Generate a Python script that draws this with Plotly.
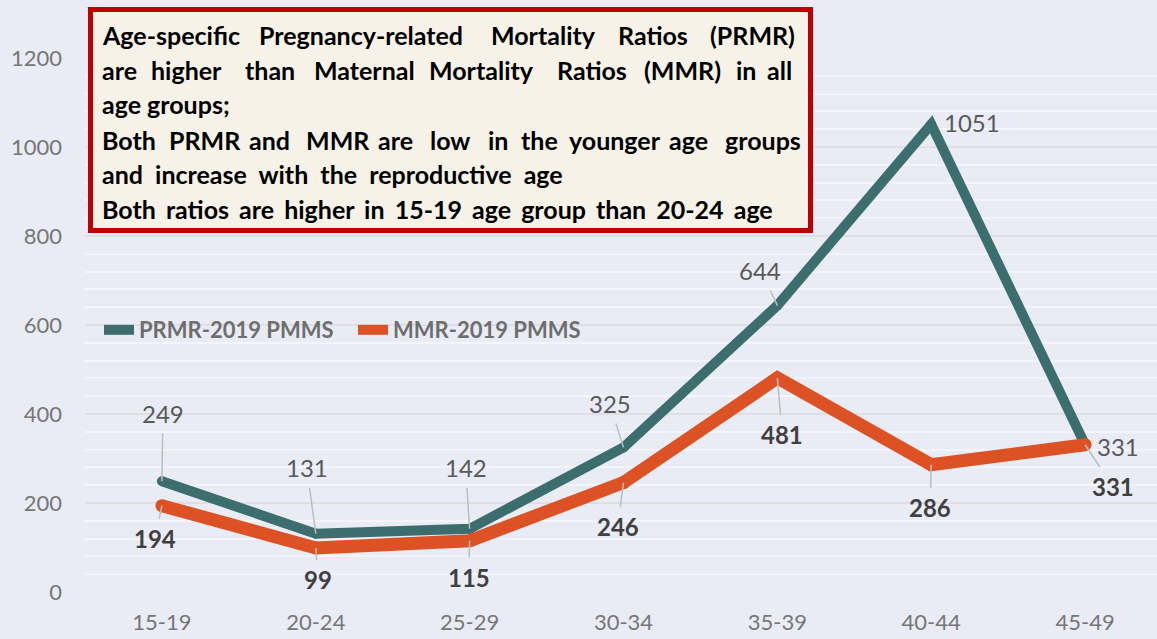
import plotly.graph_objects as go

# ---------------- data ----------------
categories = ["15-19", "20-24", "25-29", "30-34", "35-39", "40-44", "45-49"]
prmr_values = [249, 131, 142, 325, 644, 1051, 331]
mmr_values = [194, 99, 115, 246, 481, 286, 331]
y_tick_values = [0, 200, 400, 600, 800, 1000, 1200]
series_names = ["PRMR-2019 PMMS", "MMR-2019 PMMS"]

box_lines = [
    ["Age-specific", "Pregnancy-related", "Mortality", "Ratios", "(PRMR)"],
    ["are", "higher", "than", "Maternal", "Mortality", "Ratios", "(MMR)", "in", "all"],
    ["age groups;"],
    ["Both", "PRMR", "and", "MMR", "are", "low", "in", "the", "younger", "age", "groups"],
    ["and increase with the reproductive age"],
    ["Both ratios are higher in 15-19 age group than 20-24 age"],
]

# ---------------- layout geometry (pixels) ----------------
W, H = 1157, 639
L, R, T, B = 85, 0, 58, 47
PW = W - L - R
PH = H - T - B


def px(x):
    return (x - L) / PW


def py(y):
    return (H - B - y) / PH


# word start positions (px) for the justified lines
box_word_x = [
    [101, 258, 490, 617, 709],
    [101, 150, 244, 313, 428, 556, 643, 735, 766],
    [101],
    [101, 168, 248, 305, 377, 429, 487, 520, 568, 668, 724],
    [101],
    [101],
]
box_word_spacing = [0, 0, 0, 0, 6, 4]
box_line_y = [35, 70, 104, 140, 174, 209]

# data label offsets (text centre relative to point, px) and leader flags
prmr_off = [(1, -68), (-9, -66), (-4, -61), (-14, -44), (-17, -35), (41, -2), (33, 2)]
prmr_leader = [True, True, True, True, True, False, False]
mmr_off = [(-7, 33), (2, 32), (-1, 37), (-6, 44), (5, 57), (-1, 43), (28, 42)]
mmr_leader = [True, True, True, True, True, True, True]

TEAL = "#3C6E70"
ORANGE = "#DC5225"
BG = "#EAECF5"
FONT = "Lato"

fig = go.Figure()

# teal line
fig.add_trace(go.Scatter(x=categories, y=prmr_values, mode="lines", name=series_names[0],
                         line=dict(color=TEAL, width=10), hoverinfo="skip"))
fig.add_trace(go.Scatter(x=categories, y=prmr_values, mode="markers", showlegend=False,
                         marker=dict(color=TEAL, size=10, line=dict(width=0)), hoverinfo="skip"))
# orange line
fig.add_trace(go.Scatter(x=categories, y=mmr_values, mode="lines", name=series_names[1],
                         line=dict(color=ORANGE, width=13), hoverinfo="skip"))
fig.add_trace(go.Scatter(x=categories, y=mmr_values, mode="markers", showlegend=False,
                         marker=dict(color=ORANGE, size=13, line=dict(width=0)), hoverinfo="skip"))

annotations = []
for i, v in enumerate(prmr_values):
    dx, dy = prmr_off[i]
    if prmr_leader[i]:
        annotations.append(dict(x=categories[i], y=v, xref="x", yref="y", text=str(v),
                                showarrow=True, ax=dx, ay=dy, arrowhead=0, arrowwidth=1.5,
                                arrowcolor="#BDBDBD", borderpad=5,
                                font=dict(family=FONT, size=24, color="#595959")))
    else:
        annotations.append(dict(x=categories[i], y=v, xref="x", yref="y", text=str(v),
                                showarrow=False, xshift=dx, yshift=-dy,
                                font=dict(family=FONT, size=24, color="#595959")))
for i, v in enumerate(mmr_values):
    dx, dy = mmr_off[i]
    annotations.append(dict(x=categories[i], y=v, xref="x", yref="y", text="<b>%d</b>" % v,
                            showarrow=mmr_leader[i], ax=dx, ay=dy, arrowhead=0, arrowwidth=1.5,
                            arrowcolor="#BDBDBD", borderpad=5,
                            font=dict(family=FONT, size=24, color="#404040")))

# text box contents
for words, xs, ws, yc in zip(box_lines, box_word_x, box_word_spacing, box_line_y):
    for w, x0 in zip(words, xs):
        txt = "<b>%s</b>" % w
        if ws:
            txt = '<span style="word-spacing:%dpx">%s</span>' % (ws, txt)
        annotations.append(dict(x=px(x0), y=py(yc), xref="paper", yref="paper",
                                xanchor="left", yanchor="middle", showarrow=False,
                                text=txt, borderpad=0,
                                font=dict(family=FONT, size=25, color="#000000")))

shapes = [dict(type="rect", xref="paper", yref="paper",
               x0=px(90.5), x1=px(810.5), y0=py(230.5), y1=py(9.5),
               line=dict(color="#C00000", width=5), fillcolor="#F6F2E7", layer="above")]

fig.update_layout(
    width=W, height=H,
    margin=dict(l=L, r=R, t=T, b=B, pad=0),
    paper_bgcolor=BG, plot_bgcolor=BG,
    font=dict(family=FONT, color="#767676"),
    showlegend=True,
    legend=dict(orientation="h", x=px(99), y=py(330), xanchor="left", yanchor="middle",
                bgcolor="rgba(0,0,0,0)", font=dict(family=FONT, size=22, color="#6E6E6E", weight="bold"),
                itemwidth=30, entrywidth=209, entrywidthmode="pixels"),
    xaxis=dict(type="category", range=[-0.5, 6.4675], showgrid=False, zeroline=False,
               showline=False, ticks="", tickfont=dict(family=FONT, size=22, color="#767676"),
               ticklabelstandoff=15, fixedrange=True),
    yaxis=dict(range=[0, 1200], tickvals=y_tick_values, showgrid=True, gridcolor="#DEDEE3",
               gridwidth=1.5, zeroline=False, showline=False, ticks="",
               tickfont=dict(family=FONT, size=22, color="#767676"), ticklabelstandoff=22,
               minor=dict(dtick=40, tick0=0, showgrid=True, gridcolor="#F4F5FA", gridwidth=1.5),
               fixedrange=True),
    annotations=annotations,
    shapes=shapes,
)

fig.write_html("out.html", config={"displayModeBar": False},
               post_script="document.body.style.margin='0';document.body.style.padding='0';")
